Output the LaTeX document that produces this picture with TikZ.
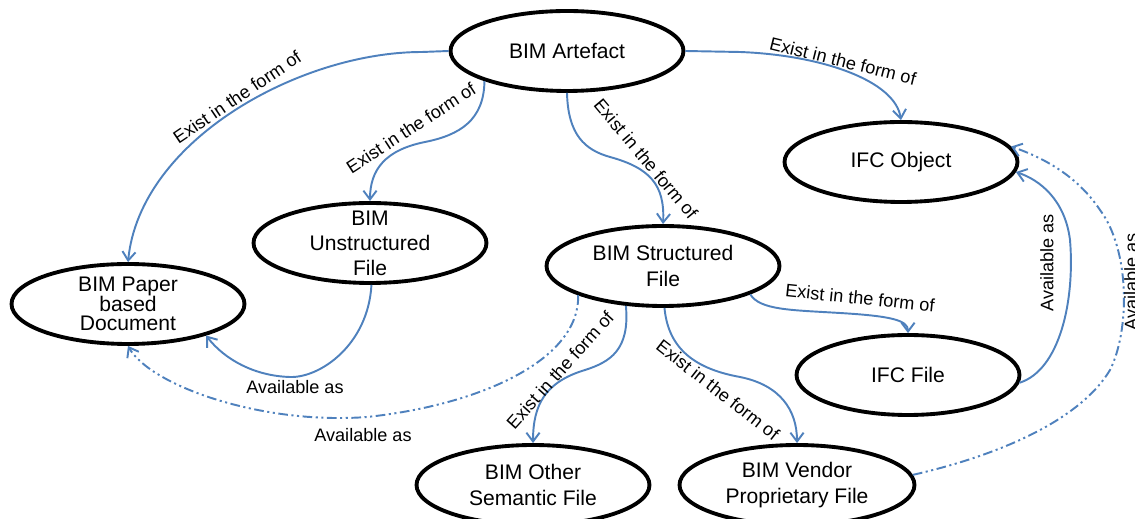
\documentclass[tikz,border=0pt]{standalone}
\usepackage{fontspec}
\setmainfont{Liberation Sans}
\usepackage{xcolor}
\usetikzlibrary{shapes.geometric,arrows.meta}
\definecolor{linkblue}{RGB}{79,129,189}

\begin{document}
\begin{tikzpicture}[x=0.02cm,y=-0.02cm,
    ell/.style={ellipse,draw,line width=2.2pt,minimum width=4.66cm,minimum height=1.6cm,
        inner xsep=0pt,inner ysep=-12pt,align=center,font=\fontsize{12}{14.3}\selectfont},
    rel/.style={draw=linkblue,line width=1.1pt,-{Straight Barb[length=5pt,width=7.5pt]}},
    avail/.style={rel,dash pattern=on 5.5pt off 2pt on 1.2pt off 2pt on 1.2pt off 2pt},
    lab/.style={font=\fontsize{10.3}{12}\selectfont,inner sep=0pt}]
    \useasboundingbox (0,0) rectangle (1135,519);
    \node[ell] (art) at (567,51) {BIM Artefact};
    \node[ell] (ifcobj) at (901,162) {IFC Object};
    \node[ell] (unstr) at (370,243) {BIM\\Unstructured\\File};
    \node[ell,font=\fontsize{12}{11.3}\selectfont] (paper) at (128,304) {BIM Paper\\based\\Document};
    \node[ell] (struct) at (663,266) {BIM Structured\\File};
    \node[ell,minimum width=4.46cm] (ifcfile) at (908,375) {IFC File};
    \node[ell] (other) at (533,485) {BIM Other\\Semantic File};
    \node[ell,minimum width=4.7cm] (vendor) at (797,485) {BIM Vendor\\Proprietary File};
    % Exist in the form of
    \draw[rel](art.west)--(422,52) .. controls (300,52) and (140,140) .. (paper.north);
    \node[lab,rotate=34] (lpaper) at (237,97) {Exist in the form of};
    \draw[rel](art.200) .. controls (484,120) and (460,135) .. (425,142)
        .. controls (385,150) and (370,170) .. (unstr.north);
    \node[lab,rotate=33] (lunstr) at (411,128) {Exist in the form of};
    \draw[rel](art.south) .. controls (568,135) and (585,150) .. (610,157)
        .. controls (650,168) and (665,185) .. (struct.north);
    \node[lab,rotate=-50] (lstruct) at (646,159) {Exist in the form of};
    \draw[rel](art.east)--(740,52) .. controls (820,55) and (895,80) .. (ifcobj.north);
    \node[lab,rotate=-14] (lifcobj) at (843,61) {Exist in the form of};
    \draw[rel](struct.-133) .. controls (630,350) and (610,362) .. (585,370)
        .. controls (545,382) and (533,405) .. (other.north);
    \node[lab,rotate=48] (lother) at (560,370) {Exist in the form of};
    \draw[rel](struct.-88) .. controls (668,345) and (690,368) .. (740,377)
        .. controls (780,385) and (797,410) .. (vendor.north);
    \node[lab,rotate=-38] (lvendor) at (718,390) {Exist in the form of};
    \draw[rel](struct.-18) .. controls (760,310) and (790,310) .. (840,313)
        .. controls (890,316) and (908,320) .. (ifcfile.north);
    \node[lab,rotate=-6] (lifcfile) at (860,298) {Exist in the form of};
    % Available as
    \draw[rel](unstr.-88) .. controls (368,345) and (320,378) .. (290,377)
        .. controls (255,376) and (225,360) .. (paper.-22);
    \node[lab] (aunstr) at (295,387) {Available as};
    \draw[rel](ifcfile.-4) .. controls (1060,370) and (1075,300) .. (1070,240)
        .. controls (1065,200) and (1040,180) .. (ifcobj.-5);
    \node[lab,rotate=90] (aifcfile) at (1047,263) {Available as};
    \draw[avail](struct.199) .. controls (580,360) and (480,405) .. (367,417)
        .. controls (260,425) and (150,385) .. (paper.south);
    \node[lab] (astruct) at (363,435) {Available as};
    \draw[avail](vendor.5) .. controls (1000,455) and (1080,420) .. (1110,370)
        .. controls (1130,330) and (1130,250) .. (1100,210)
        .. controls (1080,180) and (1050,160) .. (ifcobj.8);
    \node[lab,rotate=90] (avendor) at (1131,282) {Available as};
\end{tikzpicture}
\end{document}
